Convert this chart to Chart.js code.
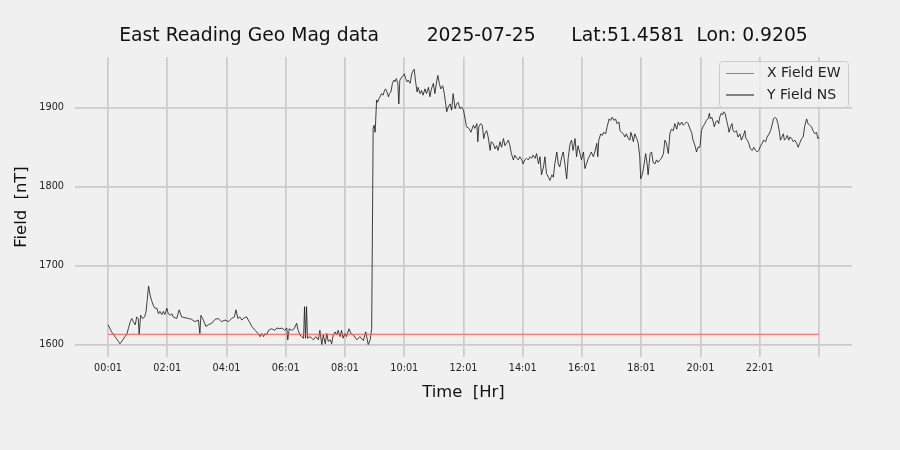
<!DOCTYPE html>
<html><head><meta charset="utf-8">
<script src="https://cdn.jsdelivr.net/npm/chart.js@4.4.1/dist/chart.umd.min.js"></script>
<style>html,body{margin:0;padding:0;background:#f0f0f0;}canvas{display:block;}</style>
</head><body>
<canvas id="c" width="900" height="450"></canvas>
<script>
const titleText = 'East Reading Geo Mag data        2025-07-25      Lat:51.4581  Lon: 0.9205';
const xAxisTitle = 'Time  [Hr]';
const yAxisTitle = 'Field  [nT]';
const tickMinutes = [0,120,240,360,480,600,720,840,960,1080,1200,1320,1440];
const tickLabels = ['00:01','02:01','04:01','06:01','08:01','10:01','12:01','14:01','16:01','18:01','20:01','22:01',''];
const yTicks = [1600,1700,1800,1900];
const xFieldTimes = [0,1440];
const xFieldValues = [1613,1613];
const yFieldTimes = [0,4,7,11,14,21,24,30,34,38,41,45,48,51,55,58,61,63,66,70,74,77,82,85,88,92,95,99,102,105,109,112,115,119,122,126,129,132,139,144,149,156,163,169,176,183,186,188,193,198,203,210,217,223,230,237,244,
250,256,259,263,267,271,276,281,284,288,291,298,304,308,311,315,318,321,325,331,338,342,348,352,358,362,364,367,372,377,382,385,389,392,396,398,400,402,404,409,416,421,426,429,433,436,440,443,446,450,453,456,460,463,466,470,473,476,480,483,488,492,497,
504,510,517,522,527,531,534,
537,539,541,544,546,549,551,554,557,560,562,565,568,570,573,576,579,581,584,587,589,591,595,598,600,603,606,608,612,615,618,620,623,626,628,632,635,638,642,645,649,652,655,659,662,666,668,671,674,678,681,684,686,689,693,696,699,703,706,709,713,716,720,723,726,731,
735,740,743,747,749,751,755,758,761,763,767,770,774,776,780,784,787,790,794,797,801,804,807,811,814,817,821,824,828,831,834,838,841,844,848,851,855,858,861,865,868,872,875,878,882,885,888,892,895,899,902,905,909,912,915,919,922,925,929,932,936,939,942,946,949,952,956,959,963,966,
969,973,976,979,983,986,990,992,994,998,1001,1004,1008,1011,1015,1018,1021,1025,1028,1031,1035,1037,1040,1044,1047,1050,1054,1057,1059,1062,1064,1067,1071,1074,1077,1079,1082,1085,1089,1092,1094,1098,1101,1104,1108,1111,1114,1118,1121,1125,1128,1131,1135,1138,1141,1145,1148,1152,1155,1158,1162,1165,1168,1172,1175,1179,1182,1185,1189,1192,1195,1199,
1202,1205,1209,1212,1216,1218,1220,1223,1226,1228,1231,1234,1237,1239,1242,1245,1247,1250,1253,1256,1258,1261,1264,1266,1270,1273,1276,1280,1283,1287,1290,1292,1295,1298,1301,1305,1308,1312,1315,1318,1322,1325,1328,1332,1335,1339,1342,1345,1348,1351,1354,1357,1360,1362,1365,1368,1370,1373,1376,1379,1381,1385,1388,1391,1395,1398,1401,1405,1408,1411,1415,1418,1421,1425,1428,1432,1435,1438,1440];
const yFieldValues = [1625,1620,1616,1613,1610,1604,1601,1606,1610,1613,1620,1629,1633,1629,1625,1635,1633,1613,1637,1633,1635,1642,1674,1663,1656,1649,1646,1646,1639,1642,1638,1642,1638,1646,1639,1637,1639,1635,1633,1644,1635,1634,1633,1632,1629,1631,1614,1637,1631,1623,1625,1627,1632,1633,1629,1631,1629,
1633,1635,1644,1633,1635,1631,1634,1635,1631,1627,1623,1618,1614,1610,1614,1610,1614,1612,1618,1620,1618,1621,1620,1621,1618,1621,1606,1620,1618,1620,1627,1618,1612,1610,1608,1648,1608,1648,1608,1610,1606,1610,1606,1618,1600,1612,1601,1614,1604,1606,1601,1612,1616,1612,1618,1610,1618,1608,1614,1610,1620,1614,1612,
1606,1610,1605,1616,1600,1606,1620,
1874,1878,1869,1910,1907,1912,1914,1918,1916,1922,1924,1920,1914,1918,1920,1931,1935,1933,1937,1931,1905,1935,1939,1941,1943,1937,1933,1935,1931,1943,1947,1949,1933,1920,1926,1918,1922,1916,1924,1918,1926,1914,1924,1931,1918,1935,1941,1931,1924,1928,1918,1905,1895,1901,1905,1897,1918,1899,1905,1907,1899,1901,1897,1887,1876,1874,
1869,1878,1874,1880,1857,1876,1880,1878,1861,1867,1871,1863,1846,1857,1855,1848,1852,1846,1857,1850,1861,1852,1855,1859,1852,1842,1834,1840,1836,1834,1838,1834,1829,1834,1836,1834,1838,1836,1840,1836,1842,1829,1838,1815,1825,1838,1817,1812,1808,1815,1812,1829,1844,1829,1825,1838,1844,1831,1810,1836,1855,1859,1846,1861,1838,1852,1842,1834,1844,1823,
1829,1836,1840,1844,1838,1844,1855,1838,1859,1867,1865,1869,1867,1876,1886,1884,1888,1884,1886,1880,1882,1871,1869,1867,1863,1867,1861,1859,1869,1863,1857,1867,1861,1855,1838,1810,1815,1825,1842,1829,1815,1842,1844,1831,1829,1834,1831,1834,1836,1842,1859,1855,1842,1867,1873,1871,1880,1873,1882,1878,1882,1878,1880,1882,1880,1873,1869,1859,1852,1844,1850,1850,
1871,1876,1880,1884,1887,1893,1886,1888,1882,1876,1882,1884,1880,1888,1893,1891,1895,1893,1884,1876,1869,1876,1880,1871,1869,1871,1863,1867,1859,1865,1871,1861,1859,1855,1848,1846,1850,1846,1844,1846,1852,1855,1859,1857,1863,1867,1871,1878,1886,1888,1886,1880,1869,1859,1863,1867,1859,1861,1865,1859,1863,1861,1857,1859,1855,1850,1855,1861,1863,1876,1886,1880,1878,1876,1871,1867,1869,1861,1863];

const toPoints = (ts, vs) => ts.map((t, i) => ({x: t, y: vs[i]}));

const legendPlugin = {
  id: 'mplLegend',
  afterDraw(chart) {
    const ctx = chart.ctx;
    const a = chart.chartArea;
    const x0 = a.right - 133, y0 = a.top + 4, w = 129, h = 46;
    ctx.save();
    ctx.beginPath();
    ctx.roundRect(x0 + 0.5, y0 + 0.5, w, h, 3);
    ctx.fillStyle = 'rgba(240,240,240,0.8)';
    ctx.fill();
    ctx.strokeStyle = '#cccccc';
    ctx.lineWidth = 1;
    ctx.stroke();
    ctx.font = '14px "DejaVu Sans"';
    ctx.textBaseline = 'middle';
    chart.data.datasets.forEach((ds, i) => {
      const y = y0 + 12.5 + i * 21.5;
      ctx.beginPath();
      ctx.moveTo(x0 + 7, y);
      ctx.lineTo(x0 + 35, y);
      ctx.strokeStyle = ds.borderColor;
      ctx.lineWidth = 1;
      ctx.stroke();
      ctx.fillStyle = '#222';
      ctx.fillText(ds.label, x0 + 48, y);
    });
    ctx.restore();
  }
};

const gridOpts = {color: '#cbcbcb', lineWidth: 1.7, drawTicks: false};

new Chart(document.getElementById('c'), {
  type: 'line',
  data: {
    datasets: [
      {label: 'X Field EW', data: toPoints(xFieldTimes, xFieldValues), borderColor: '#ff5555', borderWidth: 1, pointRadius: 0, tension: 0},
      {label: 'Y Field NS', data: toPoints(yFieldTimes, yFieldValues), borderColor: '#141414', borderWidth: 0.8, pointRadius: 0, tension: 0}
    ]
  },
  options: {
    responsive: false,
    animation: false,
    devicePixelRatio: 1,
    layout: {padding: {left: 0, right: 48, top: 0, bottom: 0}},
    plugins: {
      legend: {display: false},
      tooltip: {enabled: false},
      title: {
        display: true, text: titleText, fullSize: false,
        color: '#111', font: {family: 'DejaVu Sans', size: 18.75, weight: 'normal'},
        padding: {top: 25, bottom: 9.5}
      }
    },
    scales: {
      x: {
        type: 'linear', min: -67, max: 1507,
        afterBuildTicks: ax => { ax.ticks = tickMinutes.map(v => ({value: v})); },
        afterFit: s => { s.height = 93; },
        ticks: {callback: (v, i) => tickLabels[i], font: {family: 'DejaVu Sans', size: 9.7}, color: '#222', padding: 6, maxRotation: 0, autoSkip: false},
        grid: gridOpts,
        border: {display: false},
        title: {display: true, text: xAxisTitle, color: '#111', font: {family: 'DejaVu Sans', size: 16.4}, padding: {top: 0, bottom: 47.2}}
      },
      y: {
        type: 'linear', min: 1584.2, max: 1964.4,
        afterBuildTicks: ax => { ax.ticks = yTicks.map(v => ({value: v})); },
        afterFit: s => { s.width = 75; },
        ticks: {callback: v => String(v), font: {family: 'DejaVu Sans', size: 9.7}, color: '#222', padding: 11},
        grid: gridOpts,
        border: {display: false},
        title: {display: true, text: yAxisTitle, color: '#111', font: {family: 'DejaVu Sans', size: 16.4}, padding: {top: 12.2, bottom: 0}}
      }
    }
  },
  plugins: [legendPlugin]
});
</script>
</body></html>
